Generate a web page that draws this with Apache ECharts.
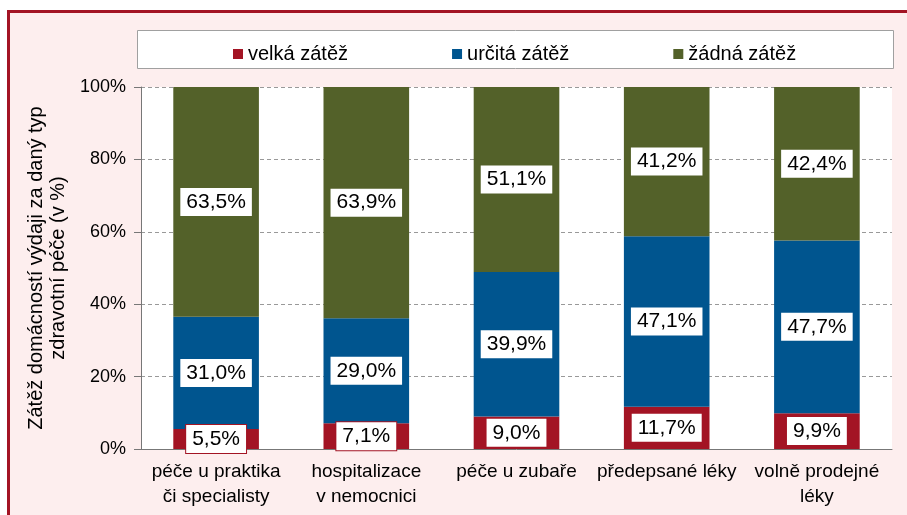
<!DOCTYPE html>
<html>
<head>
<meta charset="utf-8">
<script src="https://cdn.jsdelivr.net/npm/echarts@6/dist/echarts.min.js"></script>
<style>
  html, body { margin: 0; padding: 0; background: #ffffff; }
  #frame {
    position: absolute; left: 7px; top: 10px; width: 910px; height: 515px;
    background: #fdeeee; border: 3px solid #a31424; box-sizing: border-box;
  }
  #main { position: absolute; left: 0; top: 0; width: 907px; height: 515px; }
</style>
</head>
<body>
<div id="frame"></div>
<div id="main"></div>
<script>
const categories = [
  "péče u praktika\nči specialisty",
  "hospitalizace\nv nemocnici",
  "péče u zubaře",
  "předepsané léky",
  "volně prodejné\nléky",
]
const velka = [5.5, 7.1, 9.0, 11.7, 9.9]
const urcita = [31.0, 29.0, 39.9, 47.1, 47.7]
const zadna = [63.5, 63.9, 51.1, 41.2, 42.4]
const seriesNames = ["velká zátěž", "určitá zátěž", "žádná zátěž"]
const colors = ["#a31424", "#00558f", "#536129"]

const font = "Liberation Sans"
const fmt = (p) => p.value.toFixed(1).replace(".", ",") + "%"

const makeSeries = (name, data, color) => ({
  name: name,
  type: "bar",
  stack: "total",
  barWidth: "57%",
  data: data,
  itemStyle: { color: color },
  label: {
    show: true,
    position: "inside",
    formatter: fmt,
    fontFamily: font,
    fontSize: 21,
    color: "#000",
    backgroundColor: "#fff",
    borderColor: color,
    borderWidth: 1,
    padding: [4, 6, 3, 6],
  },
})

const myChart = echarts.init(document.getElementById("main"))
const option = {
  animation: false,
  backgroundColor: "transparent",
  textStyle: { fontFamily: font },
  graphic: [
    {
      type: "rect",
      left: 137,
      top: 30,
      shape: { width: 756, height: 38 },
      style: { fill: "#fff", stroke: "#a0a0a0", lineWidth: 1 },
      z: -1,
    },
  ],
  legend: {
    left: 228,
    top: 39,
    itemWidth: 10,
    itemHeight: 10,
    itemGap: 104,
    icon: "rect",
    textStyle: { fontFamily: font, fontSize: 20, color: "#000" },
    data: seriesNames,
  },
  grid: { left: 141, right: 15, top: 87, bottom: 66, backgroundColor: "#fff", show: true, borderWidth: 0 },
  xAxis: {
    type: "category",
    data: categories,
    axisLine: { lineStyle: { color: "#777" } },
    axisTick: { length: 6, lineStyle: { color: "#777" } },
    axisLabel: { interval: 0, fontFamily: font, fontSize: 19, color: "#000", lineHeight: 25, margin: 10 },
  },
  yAxis: {
    type: "value",
    min: 0,
    max: 100,
    interval: 20,
    name: "Zátěž domácností výdaji za daný typ\nzdravotní péče (v %)",
    nameLocation: "middle",
    nameRotate: 90,
    nameGap: 68,
    nameTextStyle: { fontFamily: font, fontSize: 20, color: "#000", lineHeight: 22 },
    axisLine: { show: true, lineStyle: { color: "#777" } },
    axisTick: { show: true, inside: false, length: 7, lineStyle: { color: "#777" } },
    axisLabel: { formatter: "{value}%", fontFamily: font, fontSize: 18, color: "#000", margin: 15 },
    splitLine: { lineStyle: { color: "#999", type: [4, 3] } },
  },
  series: [
    makeSeries(seriesNames[0], velka, colors[0]),
    makeSeries(seriesNames[1], urcita, colors[1]),
    makeSeries(seriesNames[2], zadna, colors[2]),
  ],
}
option && myChart.setOption(option)
</script>
</body>
</html>
